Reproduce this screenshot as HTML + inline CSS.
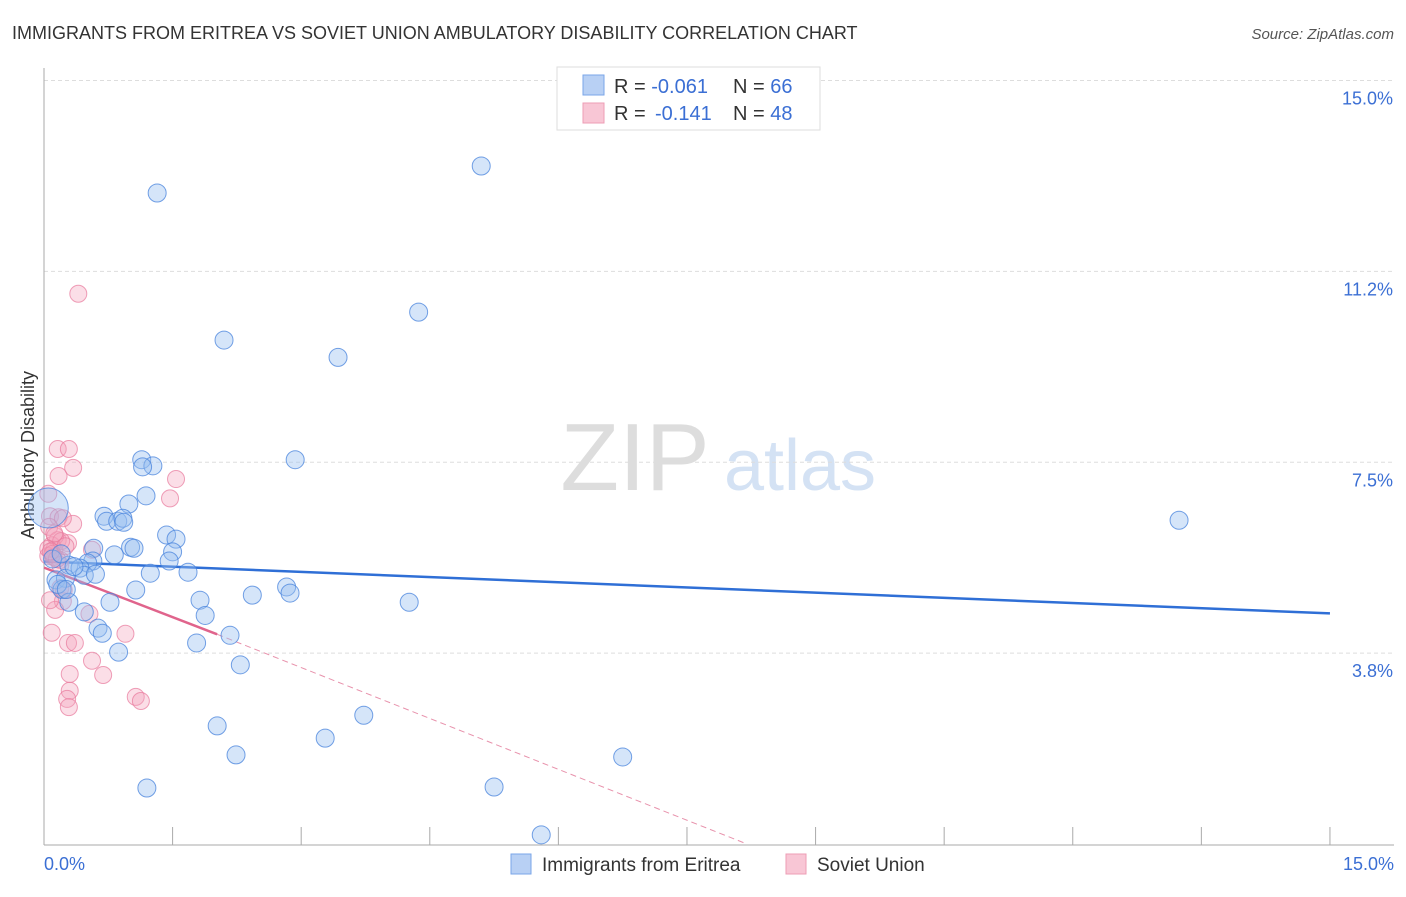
<!DOCTYPE html>
<html><head><meta charset="utf-8"><style>
body{margin:0;background:#fff;font-family:"Liberation Sans",sans-serif;}
svg text{font-family:"Liberation Sans",sans-serif;}
</style></head><body>
<svg id="c" width="1406" height="892" xmlns="http://www.w3.org/2000/svg">
<text x="12" y="39" font-size="18" fill="#333">IMMIGRANTS FROM ERITREA VS SOVIET UNION AMBULATORY DISABILITY CORRELATION CHART</text>
<text x="1394" y="39" font-size="15" fill="#555" font-style="italic" text-anchor="end">Source: ZipAtlas.com</text>
<text transform="translate(34,455) rotate(-90)" font-size="18" fill="#333" text-anchor="middle">Ambulatory Disability</text>
<g><text x="635" y="490" font-size="96" fill="#ddd" font-family="Liberation Serif" text-anchor="middle">ZIP</text><text x="800" y="490" font-size="72" fill="#d4e2f4" text-anchor="middle">atlas</text></g>
<g id="grid"></g><g id="axes"></g><g id="trend"></g><g id="pts"></g>
<g>
<rect x="557" y="67" width="263" height="63" fill="#fff" stroke="#ddd"/>
<rect x="583" y="75" width="21" height="20" fill="#b8d0f4" stroke="#7aa6e8"/>
<rect x="583" y="103" width="21" height="20" fill="#f8c6d5" stroke="#ee9db5"/>
<text x="614" y="93" font-size="20" fill="#333">R = <tspan fill="#3b6fd4">-0.061</tspan><tspan x="733">N = </tspan><tspan fill="#3b6fd4">66</tspan></text>
<text x="614" y="120" font-size="20" fill="#333">R = <tspan fill="#3b6fd4" x="655">-0.141</tspan><tspan x="733">N = </tspan><tspan fill="#3b6fd4">48</tspan></text>
</g>
<g>
<rect x="511" y="854" width="20" height="20" fill="#b8d0f4" stroke="#7aa6e8"/>
<text x="542" y="871" font-size="19" fill="#333">Immigrants from Eritrea</text>
<rect x="786" y="854" width="20" height="20" fill="#f8c6d5" stroke="#ee9db5"/>
<text x="817" y="871" font-size="19" fill="#333">Soviet Union</text>
</g>
</svg>
<script>
const yTicks=[15.0,11.25,7.5,3.75];
const yTickLabels=["15.0%","11.2%","7.5%","3.8%"];
const xTicks=[0,1.5,3,4.5,6,7.5,9,10.5,12,13.5,15];
const blueX=[1.32,5.10,2.10,4.37,3.43,2.93,1.14,1.27,1.15,13.24,1.19,0.99,0.70,0.73,0.86,0.92,0.93,1.43,1.54,1.01,1.05,0.58,0.82,1.50,0.57,0.51,1.46,0.29,0.42,0.14,1.24,1.68,0.25,0.47,1.07,2.83,2.87,2.43,1.82,4.26,0.21,0.29,0.77,0.47,1.88,0.63,0.68,2.17,1.78,0.87,2.29,3.73,2.02,3.28,2.24,6.75,1.20,5.25,5.80,0.05,0.16,0.26,0.35,0.60,0.10,0.20];
const blueY=[12.79,13.32,9.90,10.45,9.56,7.55,7.55,7.43,7.41,6.36,6.84,6.68,6.44,6.34,6.34,6.40,6.32,6.07,5.99,5.83,5.81,5.81,5.68,5.74,5.56,5.52,5.56,5.48,5.42,5.19,5.32,5.34,5.22,5.28,4.99,5.05,4.93,4.89,4.79,4.75,5.00,4.75,4.75,4.56,4.49,4.24,4.14,4.10,3.95,3.77,3.52,2.53,2.32,2.08,1.75,1.71,1.10,1.12,0.18,6.60,5.10,5.00,5.45,5.30,5.60,5.70];
const blueR=[9,9,9,9,9,9,9,9,9,9,9,9,9,9,9,9,9,9,9,9,9,9,9,9,9,9,9,9,9,9,9,9,9,9,9,9,9,9,9,9,9,9,9,9,9,9,9,9,9,9,9,9,9,9,9,9,9,9,9,20,9,9,9,9,9,9];
const pinkX=[0.40,0.16,0.29,0.34,0.17,1.54,1.47,0.05,0.07,0.17,0.34,0.22,0.06,0.16,0.09,0.28,0.12,0.05,0.56,0.19,0.11,0.19,0.22,0.53,0.13,0.09,0.95,0.28,0.36,0.56,0.30,0.69,0.30,0.27,0.29,1.07,1.13,0.07,0.19,0.23,0.13,0.05,0.10,0.20,0.15,0.08,0.12,0.25];
const pinkY=[10.81,7.76,7.76,7.39,7.23,7.17,6.79,6.88,6.44,6.42,6.29,6.40,6.23,5.97,5.87,5.91,5.78,5.66,5.78,5.58,5.64,5.03,4.77,4.52,4.60,4.15,4.13,3.95,3.95,3.60,3.34,3.32,3.01,2.85,2.69,2.89,2.81,4.79,5.48,4.99,6.05,5.80,5.70,5.95,5.60,5.75,6.10,5.85];
const blueTrend=[[0,5.55],[15,4.53]];
const pinkTrend=[[0,5.43],[2.02,4.12]];
const pinkDash=[[2.02,4.12],[8.2,0]];
const X=v=>44+v*85.73, Y=v=>844-v*50.9;
const NS="http://www.w3.org/2000/svg";
function mk(t,a,p){const e=document.createElementNS(NS,t);for(const k in a)e.setAttribute(k,a[k]);p.appendChild(e);return e;}
const grid=document.getElementById('grid'),axes=document.getElementById('axes'),trend=document.getElementById('trend'),pts=document.getElementById('pts');
yTicks.forEach((t,i)=>{
 const l=mk('line',{x1:44,x2:1394,y1:Y(t),y2:Y(t),stroke:'#ddd','stroke-dasharray':'4,3'},grid);
 
 
 const tx=mk('text',{x:1393,y:Y(t)+24,'font-size':18,fill:'#3b6fd4','text-anchor':'end'},axes);
 tx.textContent=yTickLabels[i];
 
 
});
const ya=mk('line',{x1:44,x2:44,y1:68,y2:845,stroke:'#aaa'},axes);


const xa=mk('line',{x1:44,x2:1394,y1:845,y2:845,stroke:'#aaa'},axes);


xTicks.forEach(t=>{const l=mk('line',{x1:X(t),x2:X(t),y1:827,y2:845,stroke:'#aaa'},axes);
 
 });
[["0.0%",44,'start'],["15.0%",1394,'end']].forEach(a=>{const t=mk('text',{x:a[1],y:870,'font-size':18,fill:'#3b6fd4','text-anchor':a[2]},axes);t.textContent=a[0];
 
 });
pinkX.forEach((v,i)=>{const c=mk('circle',{cx:X(v),cy:Y(pinkY[i]),r:8.5,fill:'rgba(244,160,185,0.35)',stroke:'rgba(232,120,155,0.7)','stroke-width':1},pts);
 
 });
blueX.forEach((v,i)=>{const c=mk('circle',{cx:X(v),cy:Y(blueY[i]),r:blueR[i],fill:'rgba(150,190,240,0.4)',stroke:'rgba(70,130,220,0.75)','stroke-width':1},pts);
 
 });
const bt=mk('line',{x1:X(blueTrend[0][0]),y1:Y(blueTrend[0][1]),x2:X(blueTrend[1][0]),y2:Y(blueTrend[1][1]),stroke:'#2f6fd6','stroke-width':2.5},trend);


const pd=mk('line',{x1:X(pinkDash[0][0]),y1:Y(pinkDash[0][1]),x2:X(pinkDash[1][0]),y2:Y(pinkDash[1][1]),stroke:'#e892ac','stroke-width':1,'stroke-dasharray':'6,4'},trend);


const pt=mk('line',{x1:X(pinkTrend[0][0]),y1:Y(pinkTrend[0][1]),x2:X(pinkTrend[1][0]),y2:Y(pinkTrend[1][1]),stroke:'#e0648c','stroke-width':2.5},trend);


</script>
</body></html>
